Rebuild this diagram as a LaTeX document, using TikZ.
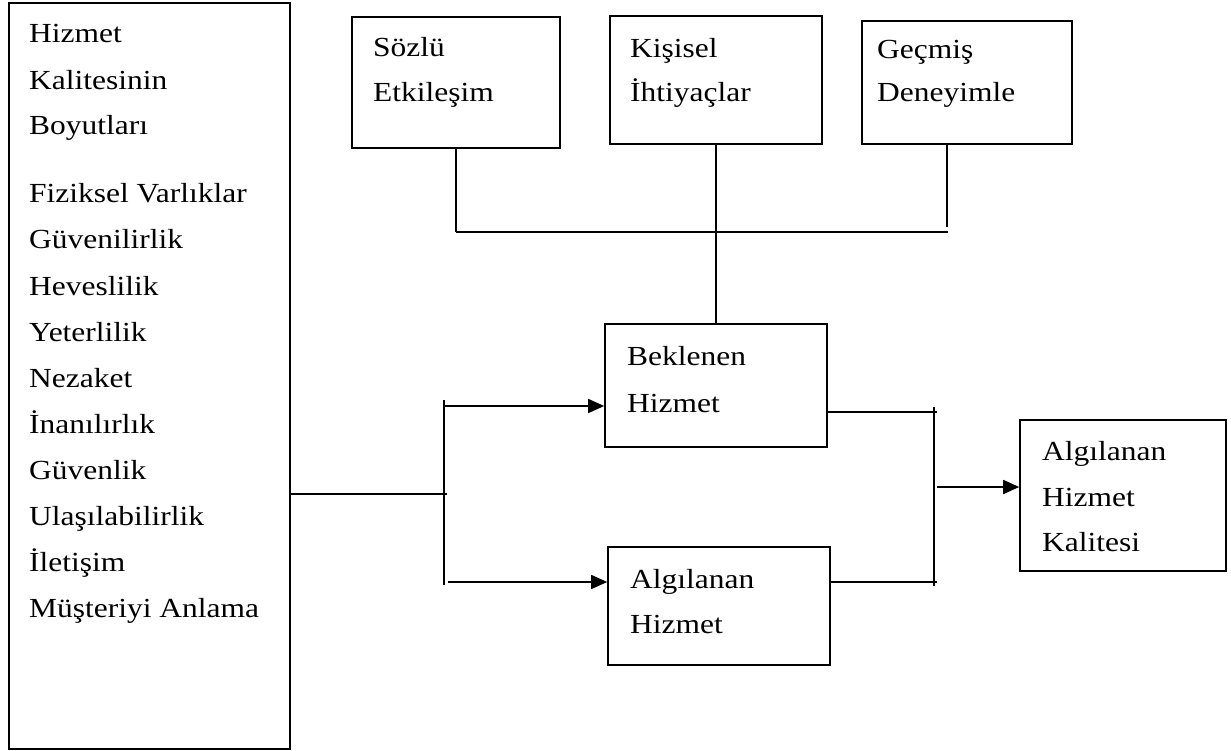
\documentclass[tikz,border=0pt]{standalone}
\usepackage{fontspec}
\setmainfont{Liberation Serif}[FakeStretch=1.14]
\usetikzlibrary{arrows.meta}
\tikzset{
  box/.style={draw, line width=1.6pt, rectangle, inner sep=0pt},
  txt/.style={anchor=base west, inner sep=0pt, font=\fontsize{27.6}{33}\selectfont},
  conn/.style={line width=1.6pt},
  arr/.style={line width=1.6pt, -{Triangle[length=16pt,width=14pt]}}
}
\begin{document}
\begin{tikzpicture}[x=1pt,y=-1pt]
\useasboundingbox (0,0) rectangle (1231,751);
% boxes
\node[box, minimum width=281pt, minimum height=746pt] (L) at (149.5,376) {};
\node[box, minimum width=208pt, minimum height=131pt] (S) at (456,82.5) {};
\node[box, minimum width=212pt, minimum height=128pt] (K) at (716,80) {};
\node[box, minimum width=210pt, minimum height=123pt] (G) at (967,82.5) {};
\node[box, minimum width=222pt, minimum height=123pt] (B) at (716,385.5) {};
\node[box, minimum width=222pt, minimum height=118pt] (A) at (719,606) {};
\node[box, minimum width=206pt, minimum height=151pt] (Q) at (1123,495.5) {};
% texts
\foreach \t/\y [count=\i] in {Hizmet/43, Kalitesinin/90, Boyutları/135,
  Fiziksel Varlıklar/203, Güvenilirlik/249, Heveslilik/295, Yeterlilik/341,
  Nezaket/387, İnanılırlık/433, Güvenlik/479, Ulaşılabilirlik/525,
  İletişim/571, Müşteriyi Anlama/617}
  \node[txt] (l\i) at (29,\y) {\t};
\node[txt] (s1) at (373,57) {Sözlü};
\node[txt] (s2) at (373,102) {Etkileşim};
\node[txt] (k1) at (630,58) {Kişisel};
\node[txt] (k2) at (630,102) {İhtiyaçlar};
\node[txt] (g1) at (877,59) {Geçmiş};
\node[txt] (g2) at (877,102) {Deneyimle};
\node[txt] (b1) at (627,365) {Beklenen};
\node[txt] (b2) at (627,412) {Hizmet};
\node[txt] (a1) at (630,588) {Algılanan};
\node[txt] (a2) at (630,633) {Hizmet};
\node[txt] (q1) at (1042,460) {Algılanan};
\node[txt] (q2) at (1042,506) {Hizmet};
\node[txt] (q3) at (1042,551) {Kalitesi};
% top connectors
\coordinate (hl) at (456,232);
\coordinate (hr) at (948,232);
\coordinate (gv) at (947,227);
\draw[conn] (S.south) -- (S.south |- hl);
\draw[conn] (hl) -- (hr);
\draw[conn] (gv |- G.south) -- (gv);
\draw[conn] (K.south) -- (B.north);
% left connectors
\coordinate (m) at (447,494);
\coordinate (vt) at (444,400);
\coordinate (vb) at (444,585);
\coordinate (ua) at (444,406);
\coordinate (la) at (448,582);
\draw[conn] (L.east |- m) -- (m);
\draw[conn] (vt) -- (vb);
\draw[arr] (ua) -- (ua -| B.west);
\draw[arr] (la) -- (la -| A.west);
% right connectors
\coordinate (rt) at (934,407);
\coordinate (rb) at (934,586);
\coordinate (br) at (937,412);
\coordinate (ar) at (937,582);
\coordinate (qa) at (937,487);
\draw[conn] (rt) -- (rb);
\draw[conn] (B.east |- br) -- (br);
\draw[conn] (A.east |- ar) -- (ar);
\draw[arr] (qa) -- (qa -| Q.west);
\end{tikzpicture}
\end{document}
